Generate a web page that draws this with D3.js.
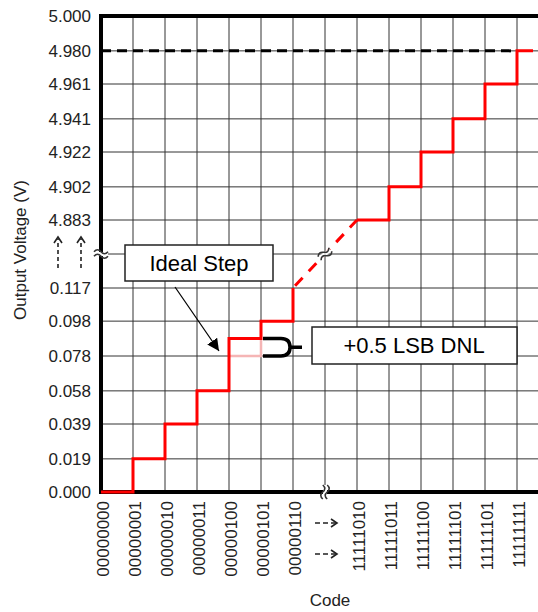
<!DOCTYPE html>
<html><head><meta charset="utf-8">
<script src="https://cdn.jsdelivr.net/npm/d3@7"></script>
<style>body{margin:0;background:#fff}svg{display:block;font-family:"Liberation Sans",Arial,sans-serif}</style>
</head><body><svg id="c" width="538" height="612"></svg>
<script>
// ---- data ----
const codeLabels = ["00000000","00000001","00000010","00000011","00000100","00000101","00000110","","11111010","11111011","11111100","11111101","11111101","11111111"];
const breakCodeIndex = 7;
const yTickValues = [0.000,0.019,0.039,0.058,0.078,0.098,0.117,4.883,4.902,4.922,4.941,4.961,4.980,5.000];
const yTickLabels = ["0.000","0.019","0.039","0.058","0.078","0.098","0.117","4.883","4.902","4.922","4.941","4.961","4.980","5.000"];
const lowCodes  = [0,1,2,3,4,5,6];
const lowVolts  = [0.000,0.019,0.039,0.058,0.088,0.098,0.117];
const highCodes = [8,9,10,11,12,13,13.5];
const highVolts = [4.883,4.902,4.922,4.941,4.961,4.980,4.980];
const idealCodes = [4,5,5];
const idealVolts = [0.078,0.078,0.088];
const fullScaleVolt = 4.980;

// ---- layout ----
const svg = d3.select("#c");
const L = 101, R = 538, T = 16, B = 492;
const x = d3.scaleLinear().domain([0,13]).range([L,517]);
const y = d3.scaleLinear().domain([0,0.117,4.883,5.000]).range([B,288,220,T]);
const yBreak = (y(0.117)+y(4.883))/2;
const xBreak = x(breakCodeIndex);

// grid
const g = svg.append("g").attr("stroke","#333").attr("stroke-width",1);
yTickValues.concat([null]).forEach(v=>{
  const yy = v===null? yBreak : y(v);
  g.append("line").attr("x1",L).attr("x2",R).attr("y1",yy).attr("y2",yy);
});
d3.range(1,codeLabels.length).forEach(i=>{
  g.append("line").attr("x1",x(i)).attr("x2",x(i)).attr("y1",T).attr("y2",B);
});

// full-scale dashed line
svg.append("line").attr("x1",L).attr("x2",x(13)).attr("y1",y(fullScaleVolt)).attr("y2",y(fullScaleVolt))
  .attr("stroke","#000").attr("stroke-width",3).attr("stroke-dasharray","10,6");

// axes
const ax = svg.append("g").attr("stroke","#000").attr("stroke-width",4).attr("stroke-linecap","square");
ax.append("line").attr("x1",L).attr("x2",L).attr("y1",T).attr("y2",B);
ax.append("line").attr("x1",L).attr("x2",R+4).attr("y1",B).attr("y2",B);
ax.append("line").attr("x1",L).attr("x2",R+4).attr("y1",T).attr("y2",T);

// ideal step
const line = d3.line().x(d=>x(d[0])).y(d=>y(d[1]));
svg.append("path").datum(d3.zip(idealCodes,idealVolts))
  .attr("d", line).attr("fill","none").attr("stroke","#f5b5b5").attr("stroke-width",2.5);

// red staircase
const stepLine = d3.line().x(d=>x(d[0])).y(d=>y(d[1])).curve(d3.curveStepAfter);
svg.append("path").datum(d3.zip(lowCodes,lowVolts)).attr("d",stepLine)
  .attr("fill","none").attr("stroke","#ff0000").attr("stroke-width",3);
svg.append("path").datum(d3.zip(highCodes,highVolts)).attr("d",stepLine)
  .attr("fill","none").attr("stroke","#ff0000").attr("stroke-width",3);
const linkPts = [[lowCodes[lowCodes.length-1], lowVolts[lowVolts.length-1]],[highCodes[0],highVolts[0]]];
svg.append("path").datum(linkPts).attr("d",line)
  .attr("fill","none").attr("stroke","#ff0000").attr("stroke-width",3).attr("stroke-dasharray","11,9").attr("stroke-dashoffset",-3);

// break symbols
function breakSym(cx, cy, angle){
  const s = svg.append("g").attr("transform",`translate(${cx},${cy}) rotate(${angle})`);
  s.append("rect").attr("x",-7).attr("y",-2).attr("width",14).attr("height",4).attr("fill","#fff");
  [-2.2,2.2].forEach(o=>{
    s.append("path").attr("d",`M-7,${o} q3.5,-4 7,0 t7,0`).attr("fill","none").attr("stroke","#333").attr("stroke-width",1.6);
  });
}
breakSym(L, yBreak, 0);
breakSym(xBreak, B, 90);
breakSym(xBreak, yBreak, -40);

// y tick labels
svg.append("g").selectAll("text").data(yTickValues).join("text")
  .attr("x",91).attr("y",d=>y(d)).attr("dy","0.35em").attr("text-anchor","end")
  .attr("font-size",17).attr("fill","#222").text((d,i)=>yTickLabels[i]);

// y break arrows
[58,81].forEach(ax0=>{
  svg.append("line").attr("x1",ax0).attr("x2",ax0).attr("y1",268).attr("y2",239)
    .attr("stroke","#222").attr("stroke-width",1.6).attr("stroke-dasharray","4,3");
  svg.append("path").attr("d",`M${ax0-4},${243} L${ax0},${237} L${ax0+4},${243}`)
    .attr("fill","none").attr("stroke","#222").attr("stroke-width",1.6);
});

// x tick labels
svg.append("g").selectAll("text").data(codeLabels).join("text")
  .attr("transform",(d,i)=>`translate(${x(i)+2},501) rotate(-90)`)
  .attr("dy","0.35em").attr("text-anchor","end").attr("font-size",17).attr("fill","#222")
  .text(d=>d);

// x break arrows
[523,554].forEach(ay=>{
  svg.append("line").attr("x1",315).attr("x2",336).attr("y1",ay).attr("y2",ay)
    .attr("stroke","#222").attr("stroke-width",1.6).attr("stroke-dasharray","5,3");
  svg.append("path").attr("d",`M331,${ay-4} L337,${ay} L331,${ay+4}`)
    .attr("fill","none").attr("stroke","#222").attr("stroke-width",1.6);
});

// axis titles
svg.append("text").attr("transform",`translate(26,250) rotate(-90)`).attr("text-anchor","middle")
  .attr("font-size",17).attr("fill","#222").text("Output Voltage (V)");
svg.append("text").attr("x",330).attr("y",606).attr("text-anchor","middle")
  .attr("font-size",17).attr("fill","#222").text("Code");

// annotation: Ideal Step
svg.append("rect").attr("x",125).attr("y",245).attr("width",148).attr("height",36)
  .attr("fill","#fff").attr("stroke","#222").attr("stroke-width",1.5);
svg.append("text").attr("x",199).attr("y",263).attr("dy","0.35em").attr("text-anchor","middle")
  .attr("font-size",22).attr("fill","#000").text("Ideal Step");
svg.append("defs").append("marker").attr("id","ah").attr("viewBox","0 0 10 10").attr("refX",10).attr("refY",5)
  .attr("markerWidth",12).attr("markerHeight",12).attr("markerUnits","userSpaceOnUse").attr("orient","auto")
  .append("path").attr("d","M0,0 L10,5 L0,10 z").attr("fill","#000");
svg.append("line").attr("x1",175).attr("y1",287).attr("x2",219).attr("y2",351)
  .attr("stroke","#000").attr("stroke-width",1.2).attr("marker-end","url(#ah)");

// annotation: DNL bracket
const yA = y(0.088), yB = y(0.078);
svg.append("path").attr("d",`M${x(5)+2},${yA} H281 Q290,${yA} 290,${(yA+yB)/2} Q290,${yB} 281,${yB} H${x(5)+2} M290,${(yA+yB)/2} H302`)
  .attr("fill","none").attr("stroke","#000").attr("stroke-width",3.5);
svg.append("rect").attr("x",312).attr("y",327).attr("width",205).attr("height",37)
  .attr("fill","#fff").attr("stroke","#222").attr("stroke-width",1.5);
svg.append("text").attr("x",414).attr("y",345.5).attr("dy","0.35em").attr("text-anchor","middle")
  .attr("font-size",22).attr("fill","#000").text("+0.5 LSB DNL");
</script></body></html>
